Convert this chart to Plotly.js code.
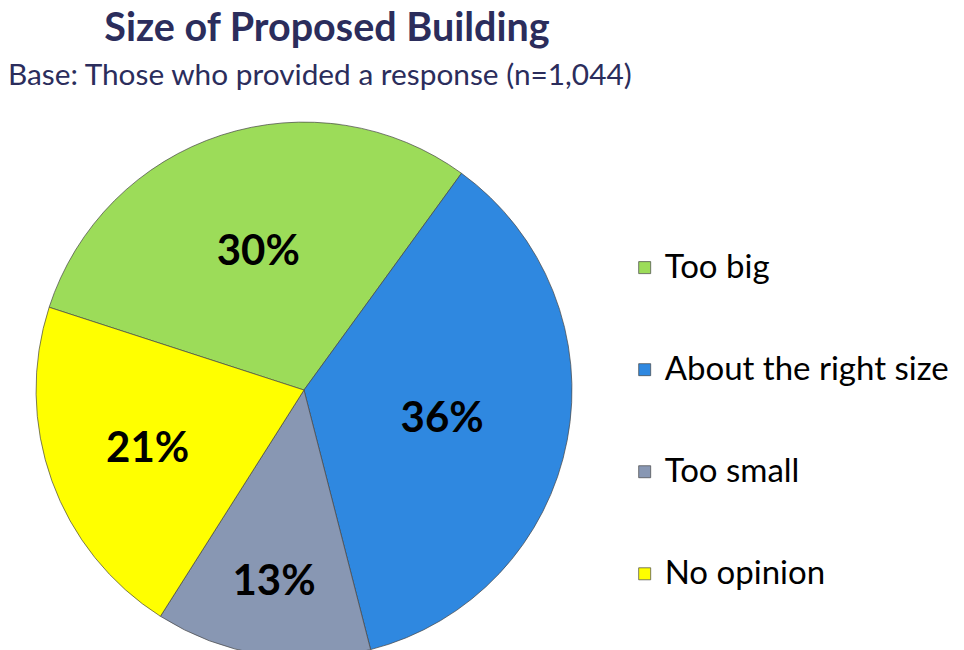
<!DOCTYPE html>
<html>
<head>
<meta charset="utf-8">
<script src="https://cdn.plot.ly/plotly-3.0.1.min.js"></script>
<style>
html,body{margin:0;padding:0;overflow:hidden;background:#fff;}
#chart{width:964px;height:660px;}
</style>
</head>
<body>
<div id="chart"></div>
<script>
const categories = ["Too big", "About the right size", "Too small", "No opinion"];
const percentages = [30, 36, 13, 21];
const sliceColors = ["#9cdc59", "#2f88e0", "#8897b3", "#ffff00"];
const chartTitle = "Size of Proposed Building";
const chartSubtitle = "Base: Those who provided a response (n=1,044)";

const navy = "#2b2d5c";
const legendLabels = categories.map(c => '\u00a0<br><span style="font-size:33px">' + c + '</span><br>\u00a0');

const trace = {
  type: "pie",
  labels: legendLabels,
  values: percentages,
  sort: false,
  direction: "clockwise",
  rotation: -72,
  marker: {colors: sliceColors, line: {color: "rgba(70,70,70,0.7)", width: 1}},
  texttemplate: "%{value}%",
  textposition: "inside",
  insidetextorientation: "horizontal",
  insidetextfont: {family: "Lato", size: 42, color: "#000", weight: "bold"},
  hovertemplate: "%{value}%<extra></extra>",
  domain: {x: [0.0373, 0.5934], y: [0.003, 0.815]}
};

const layout = {
  width: 964,
  height: 660,
  margin: {l: 0, r: 0, t: 0, b: 0},
  paper_bgcolor: "#fff",
  showlegend: true,
  title: {
    text: "<b>" + chartTitle + "</b>",
    font: {family: "Lato", size: 39.5, color: navy},
    x: 327/964, xanchor: "center", xref: "paper",
    y: 1 - 27/660, yanchor: "middle", yref: "container"
  },
  annotations: [{
    text: chartSubtitle,
    xref: "paper", yref: "paper",
    x: 320/964, y: 1 - 73/660, xanchor: "center", yanchor: "middle",
    showarrow: false,
    font: {family: "Lato", size: 29.8, color: navy}
  }],
  legend: {
    x: 0.648, xanchor: "left",
    y: 0.362, yanchor: "middle",
    font: {family: "Lato", size: 25.4, color: "#000"},
    bgcolor: "rgba(0,0,0,0)",
    itemclick: false
  }
};

Plotly.newPlot("chart", [trace], layout, {displayModeBar: false, staticPlot: true});
</script>
</body>
</html>
